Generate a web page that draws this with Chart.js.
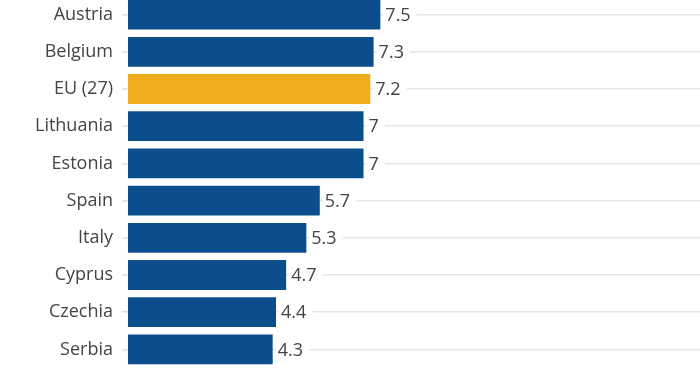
<!DOCTYPE html>
<html>
<head>
<meta charset="utf-8">
<script src="https://cdn.jsdelivr.net/npm/chart.js@4.4.1/dist/chart.umd.min.js"></script>
<style>
  html, body { margin: 0; padding: 0; background: #fff; overflow: hidden; }
  #wrap { position: absolute; left: 0; top: -4px; width: 700px; height: 372px; }
</style>
</head>
<body>
<div id="wrap"><canvas id="c"></canvas></div>
<script>
const categories = ["Austria", "Belgium", "EU (27)", "Lithuania", "Estonia", "Spain", "Italy", "Cyprus", "Czechia", "Serbia"];
const values = [7.5, 7.3, 7.2, 7, 7, 5.7, 5.3, 4.7, 4.4, 4.3];
const highlight = "EU (27)";

const BLUE = "#0c4e8b";
const GOLD = "#f0ad1c";
const colors = categories.map(c => c === highlight ? GOLD : BLUE);

const valueLabels = {
  id: "valueLabels",
  afterDatasetsDraw(chart) {
    const ctx = chart.ctx;
    const meta = chart.getDatasetMeta(0);
    ctx.save();
    ctx.font = "18px 'Open Sans'";
    ctx.textBaseline = "middle";
    ctx.textAlign = "left";
    meta.data.forEach((bar, i) => {
      const txt = String(values[i]);
      const x = bar.x + 5;
      const w = ctx.measureText(txt).width;
      ctx.fillStyle = "#ffffff";
      ctx.fillRect(x - 2, bar.y - 11, w + 8, 22);
      ctx.fillStyle = "#444444";
      ctx.fillText(txt, x, bar.y + 1);
    });
    ctx.restore();
  }
};

new Chart(document.getElementById("c"), {
  type: "bar",
  data: {
    labels: categories,
    datasets: [{
      data: values,
      backgroundColor: colors,
      borderWidth: 0,
      barPercentage: 0.8,
      categoryPercentage: 1.0
    }]
  },
  options: {
    indexAxis: "y",
    responsive: true,
    maintainAspectRatio: false,
    animation: false,
    layout: { padding: 0 },
    plugins: { legend: { display: false }, tooltip: { enabled: false } },
    scales: {
      x: {
        display: false,
        min: 0,
        max: 17
      },
      y: {
        border: { display: false },
        grid: {
          offset: false,
          color: "#e6e6e6",
          lineWidth: 1.6,
          drawTicks: true,
          tickLength: 6,
          tickColor: "#e2e2e2"
        },
        ticks: {
          color: "#444444",
          font: { family: "'Open Sans'", size: 18 },
          padding: 9
        },
        afterFit(scale) {
          scale.width = 128;
          scale.paddingTop = 0;
          scale.paddingBottom = 0;
        }
      }
    }
  },
  plugins: [valueLabels]
});
</script>
</body>
</html>
